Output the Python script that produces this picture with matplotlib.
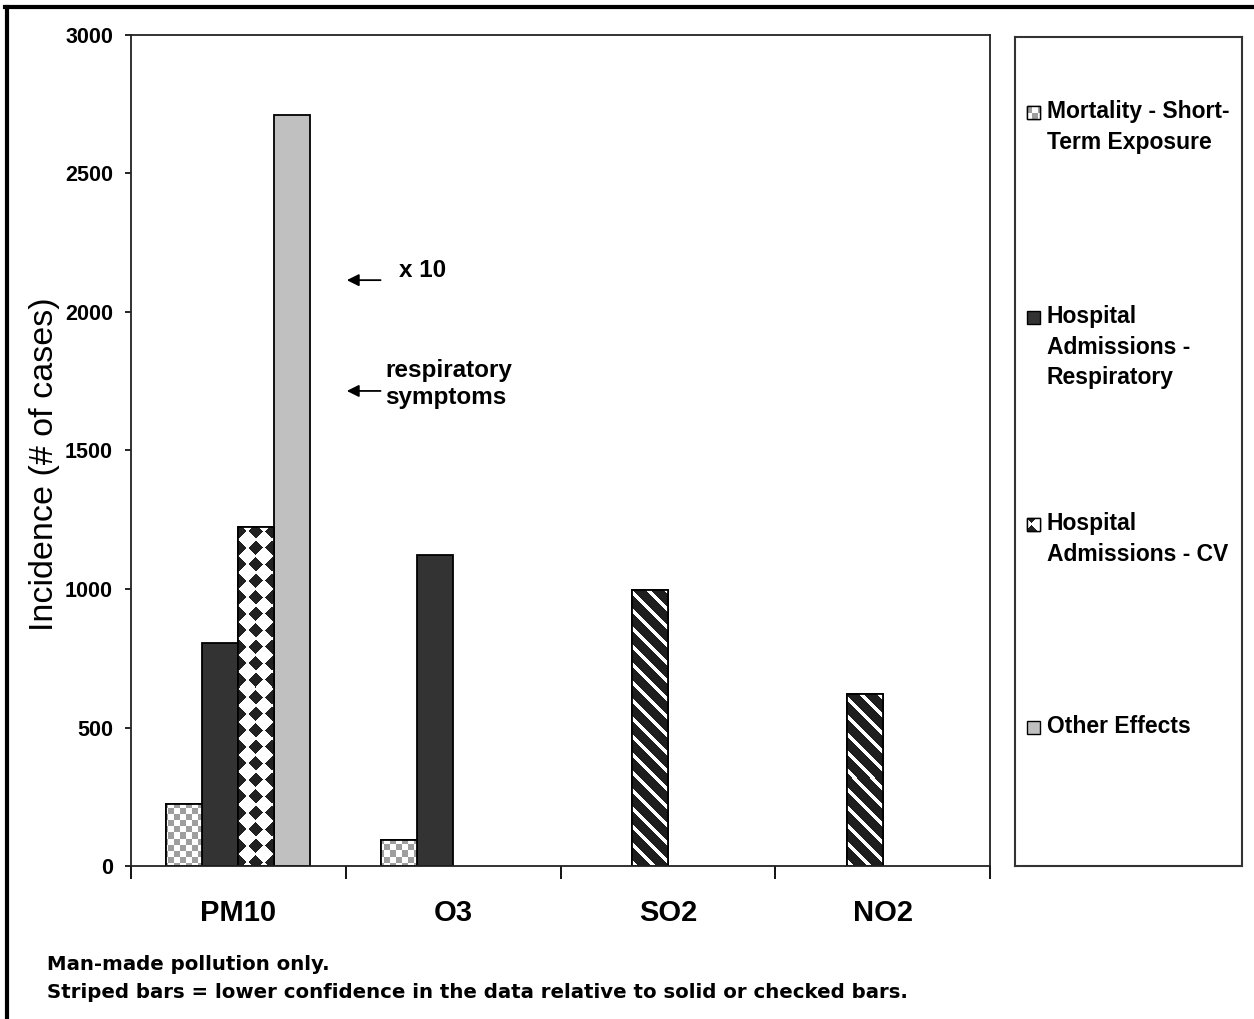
import numpy as np
import matplotlib
matplotlib.use("Agg")
import matplotlib.pyplot as plt
from matplotlib.patches import Rectangle
from matplotlib.lines import Line2D

plt.rcParams["font.family"] = ["Liberation Sans", "DejaVu Sans"]

# data
categories = ["PM10", "O3", "SO2", "NO2"]
mortality = [224, 94, np.nan, np.nan]
hosp_resp = [805, 1123, 996, 621]
hosp_cv = [1224, np.nan, np.nan, np.nan]
other_effects = [2711, np.nan, np.nan, np.nan]
resp_low_conf = [False, False, True, True]   # striped bars

legend_labels = [
    "Mortality - Short-\nTerm Exposure",
    "Hospital\nAdmissions -\nRespiratory",
    "Hospital\nAdmissions - CV",
    "Other Effects",
]
notes = [
    "Man-made pollution only.",
    "Striped bars = lower confidence in the data relative to solid or checked bars.",
]

W, H = 1254, 1019
fig = plt.figure(figsize=(W / 100, H / 100), dpi=100)
ax = fig.add_axes([131 / W, 1 - 866 / H, (990 - 131) / W, (866 - 35) / H])
ax.set_xlim(-0.5, len(categories) - 0.5)
ax.set_ylim(0, 3000)
ax.set_autoscale_on(False)


def pattern_fill(axis, patch, kind):
    """Fill a patch with a pixel texture (checker / diamonds / stripes)."""
    x0, y0, x1, y1 = patch.get_window_extent().extents
    px0, py0, px1, py1 = np.floor(x0), np.floor(y0), np.ceil(x1), np.ceil(y1)
    xs = np.arange(px0, px1) + 0.5
    ys = np.arange(py0, py1) + 0.5
    X, Y = np.meshgrid(xs, ys)
    if kind == "checker":
        on = (np.floor(X / 6) + np.floor(Y / 6)) % 2 == 0
        fg, bg = (0.62, 0.62, 0.62), (1, 1, 1)
    elif kind == "diamond":
        s = 16.5
        cx = (X % s) - s / 2
        cy = (Y % s) - s / 2
        on = (np.abs(cx) + np.abs(cy)) < s * 0.45
        fg, bg = (0.13, 0.13, 0.13), (1, 1, 1)
    else:  # stripes
        on = ((X + Y) % 18) < 13
        fg, bg = (0.12, 0.12, 0.12), (1, 1, 1)
    img = np.where(on[..., None], np.array(fg), np.array(bg))
    inv = axis.transData.inverted()
    (dx0, dy0), (dx1, dy1) = inv.transform([(px0, py0), (px1, py1)])
    im = axis.imshow(img, extent=(dx0, dx1, dy0, dy1), origin="lower",
                     aspect="auto", interpolation="nearest",
                     zorder=patch.get_zorder() + 0.1)
    im.set_clip_path(patch)
    axis.add_patch(Rectangle(patch.get_xy(), patch.get_width(), patch.get_height(),
                             transform=axis.transData, fill=False,
                             edgecolor="black", linewidth=patch.get_linewidth(),
                             zorder=patch.get_zorder() + 0.2))


x = np.arange(len(categories))
bw = 0.1676
series = [
    (mortality, "#9e9e9e", "checker"),
    (hosp_resp, "#333333", None),
    (hosp_cv, "#222222", "diamond"),
    (other_effects, "#c0c0c0", None),
]
for k, (vals, color, kind) in enumerate(series):
    vals = np.asarray(vals, dtype=float)
    keep = ~np.isnan(vals)
    bars = ax.bar(x[keep] + (k - 1.5) * bw, vals[keep], width=bw, color=color,
                  edgecolor="black", linewidth=1.3, zorder=2)
    for idx, b in zip(np.where(keep)[0], bars):
        if kind is not None:
            pattern_fill(ax, b, kind)
        elif k == 1 and resp_low_conf[idx]:
            pattern_fill(ax, b, "stripes")

# axes styling
for sp in ax.spines.values():
    sp.set_linewidth(1.3)
    sp.set_color("#222222")
ax.set_yticks(np.arange(0, 3001, 500))
ax.tick_params(axis="y", length=4, width=1.2, pad=9, labelsize=15.5)
for t in ax.get_yticklabels():
    t.set_fontweight("bold")
ax.set_xticks(np.arange(-0.5, len(categories)), labels=[])
ax.tick_params(axis="x", which="major", length=9, width=1.3, direction="out")
ax.set_xticks(x, labels=categories, minor=True)
ax.tick_params(axis="x", which="minor", length=0, pad=24, labelsize=21)
for t in ax.get_xticklabels(minor=True):
    t.set_fontweight("bold")
ax.set_ylabel("Incidence (# of cases)", fontsize=24.5)
ax.yaxis.set_label_coords(-0.083, 0.484)

# annotations beside the tall bar
arrow = dict(arrowstyle="-|>", color="black", lw=1.3, mutation_scale=18)
ax.annotate("", xy=(0.492, 2115), xytext=(0.675, 2115), arrowprops=arrow)
ax.text(0.75, 2150, "x 10", fontsize=17.5, fontweight="bold", va="center")
ax.annotate("", xy=(0.492, 1715), xytext=(0.675, 1715), arrowprops=arrow)
ax.text(0.683, 1740, "respiratory\nsymptoms", fontsize=17.5, fontweight="bold",
        va="center", linespacing=1.2)

# legend box
lax = fig.add_axes([1015 / W, 1 - 866 / H, (1242 - 1015) / W, (866 - 37) / H])
lax.set_xlim(0, 1)
lax.set_ylim(0, 1)
lax.set_xticks([])
lax.set_yticks([])
for sp in lax.spines.values():
    sp.set_linewidth(1.5)
    sp.set_color("#333333")
entry_y = [113, 318, 525, 728]
lh = 829
for (vals, color, kind), label, py in zip(series, legend_labels, entry_y):
    yy = (866 - py) / lh
    sq = Rectangle((12 / 227, yy - 6 / lh), 13 / 227, 13 / lh, facecolor=color,
                   edgecolor="black", linewidth=1.0, zorder=2)
    lax.add_patch(sq)
    if kind is not None:
        pattern_fill(lax, sq, kind)
    lax.text(32 / 227, yy + 13 / lh, label, fontsize=16.5, fontweight="bold",
             va="top", ha="left", linespacing=1.42)

# footnotes
fig.text(47 / W, 1 - 965 / H, notes[0], fontsize=14.2, fontweight="bold",
         va="center", family="DejaVu Sans")
fig.text(47 / W, 1 - 992 / H, notes[1], fontsize=14.2, fontweight="bold",
         va="center", family="DejaVu Sans")

# outer frame (left and top only)
fig.add_artist(Line2D([6.5 / W, 6.5 / W], [0, 1 - 6.5 / H], color="black", lw=3,
                      transform=fig.transFigure))
fig.add_artist(Line2D([5 / W, 1], [1 - 6.5 / H, 1 - 6.5 / H], color="black", lw=3,
                      transform=fig.transFigure))

fig.savefig("out.png", dpi=100, facecolor="white")
